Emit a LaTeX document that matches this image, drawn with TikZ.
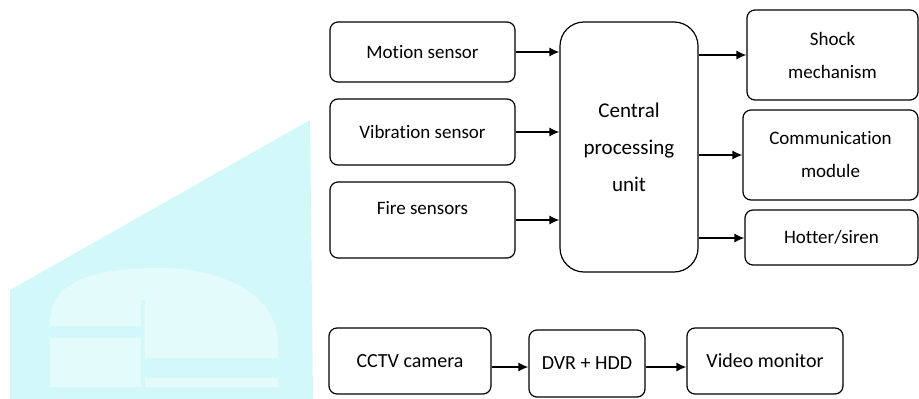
\documentclass[tikz,border=0pt]{standalone}
\usepackage{fontspec}
\setmainfont{Carlito}[Ligatures=NoCommon]
\usepackage{xcolor}
\usetikzlibrary{arrows.meta, positioning, calc}

\definecolor{wmcyan}{RGB}{210,248,250}
\definecolor{wmlight}{RGB}{228,251,252}

\tikzset{
  block/.style={rectangle, draw, rounded corners=8pt, line width=1.2pt, align=center, font=\fontsize{19}{33}\selectfont},
  flow/.style={-{Latex[length=10pt,width=9pt]}, line width=1.3pt}
}

\begin{document}
\begin{tikzpicture}[x=1pt, y=-1pt]
\useasboundingbox (0,0) rectangle (919,399);

% faint watermark on the left
\fill[wmcyan] (10,399) -- (10,290) -- (310,120) -- (313,399) -- cycle;
\fill[wmlight] (50,387) -- (50,322) to[out=90,in=180] (160,268) to[out=0,in=90] (278,345) -- (278,387) -- cycle;
\fill[wmcyan] (50,326) rectangle (143,338);
\fill[wmcyan] (143,358) rectangle (278,378);
\fill[wmcyan] (141,300) rectangle (145,399);

% sensors
\node[block, minimum width=185pt, minimum height=60pt] (motion) at (422.5,52) {Motion sensor};
\node[block, minimum width=185pt, minimum height=66pt] (vibration) at (422.5,132) {Vibration sensor};
\node[block, minimum width=185pt, minimum height=76pt, text height=13pt, text depth=24pt] (fire) at (422.5,220) {Fire sensors};

% processing unit
\node[block, rounded corners=24pt, minimum width=138pt, minimum height=250pt, font=\fontsize{21}{37}\selectfont] (cpu) at (629,147) {Central\\processing\\unit};

% outputs
\node[block, minimum width=171pt, minimum height=90pt] (shock) at (832.5,55) {Shock\\mechanism};
\node[block, minimum width=175pt, minimum height=90pt] (comm) at (830.5,155) {Communication\\module};
\node[block, minimum width=173pt, minimum height=55pt] (siren) at (831.5,237.5) {Hotter/siren};

% video chain
\node[block, minimum width=162pt, minimum height=66pt, font=\fontsize{20}{24}\selectfont] (cctv) at (410,361) {CCTV camera};
\node[block, minimum width=116pt, minimum height=67pt, font=\fontsize{20}{24}\selectfont] (dvr) at (587,363.5) {DVR + HDD};
\node[block, minimum width=156pt, minimum height=66pt, font=\fontsize{20}{24}\selectfont] (monitor) at (765,361) {Video monitor};

\draw[flow] (motion.east) -- (motion.east -| cpu.west);
\draw[flow] (vibration.east) -- (vibration.east -| cpu.west);
\draw[flow] (fire.east) -- (fire.east -| cpu.west);

\draw[flow] (cpu.east |- shock.west) -- (shock.west);
\draw[flow] (cpu.east |- comm.west) -- (comm.west);
\draw[flow] ($(cpu.east |- siren.west)+(0,0.5)$) -- ($(siren.west)+(0,0.5)$);

\draw[flow] ($(cctv.east)+(0,6)$) -- ($(dvr.west)+(0,3.5)$);
\draw[flow] ($(dvr.east)+(0,3.5)$) -- ($(monitor.west)+(0,6)$);
\end{tikzpicture}
\end{document}
